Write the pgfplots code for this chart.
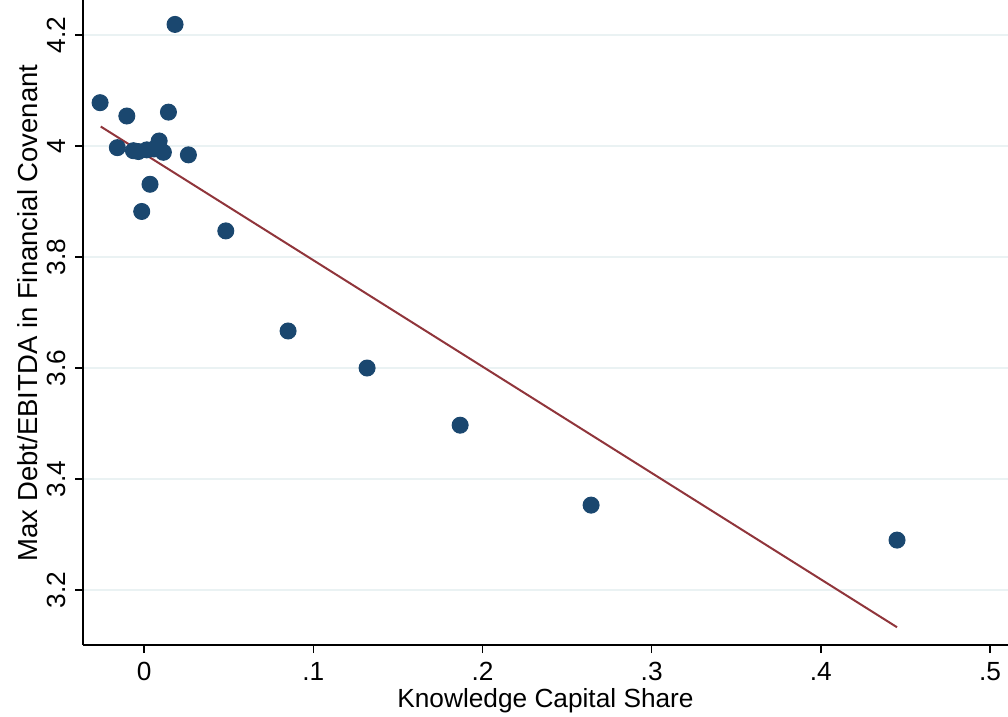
\documentclass[border=0pt]{standalone}
\usepackage{fontspec}
\setmainfont{Liberation Sans}
\usepackage{pgfplots}
\pgfplotsset{compat=1.18}
\definecolor{stnavy}{HTML}{1A476F}
\definecolor{stmaroon}{HTML}{90353B}
\definecolor{stgrid}{HTML}{EAF2F3}
\begin{document}
\fontsize{10.5}{12.6}\selectfont
\begin{tikzpicture}
\begin{axis}[
  scale only axis,
  width=370pt, height=258pt,
  xmin=-0.0361, xmax=0.5106,
  ymin=3.101, ymax=4.263,
  axis x line*=bottom, axis y line*=left,
  axis line style={line width=0.6pt, black, -},
  xtick={0,0.1,0.2,0.3,0.4,0.5},
  xticklabels={0,.1,.2,.3,.4,.5},
  ytick={3.2,3.4,3.6,3.8,4.0,4.2},
  yticklabels={3.2,3.4,3.6,3.8,4,4.2},
  tick align=outside,
  major tick length=3.2pt,
  tick style={line width=0.6pt, black},
  ymajorgrids=true,
  major grid style={stgrid, line width=0.8pt},
  yticklabel style={rotate=90, anchor=south},
  /pgf/number format/assume math mode=true,
  ticklabel style={font=\fontsize{10.5}{12.6}\selectfont},
  label style={font=\fontsize{10.5}{12.6}\selectfont},
  xlabel={Knowledge Capital Share},
  ylabel={Max Debt/EBITDA in Financial Covenant},
  every axis x label/.style={at={(axis description cs:0.5,-0.086)}, anchor=center},
  every axis y label/.style={at={(axis description cs:-0.0595,0.515)}, anchor=center, rotate=90, font=\fontsize{11}{13}\selectfont},
  clip=false,
]
\addplot[only marks, mark=*, mark size=3.2pt, color=stnavy, mark options={draw=stnavy, fill=stnavy}] coordinates {
(-0.0260,4.078)
(-0.0158,3.997)
(-0.0102,4.054)
(-0.0063,3.9915)
(-0.0034,3.990)
(-0.0014,3.882)
(0.0016,3.993)
(0.0035,3.931)
(0.0059,3.9946)
(0.0089,4.009)
(0.0114,3.9886)
(0.0144,4.061)
(0.0183,4.219)
(0.0262,3.984)
(0.0483,3.847)
(0.0851,3.6667)
(0.1318,3.600)
(0.1868,3.497)
(0.2642,3.353)
(0.4450,3.290)
};
\addplot[color=stmaroon, line width=0.8pt] coordinates {(-0.0256,4.035) (0.4450,3.133)};
\end{axis}
\pgfresetboundingbox
\path (current axis.south west) ++(-33.2pt,-28.4pt) rectangle (current axis.north east);
\end{tikzpicture}
\end{document}
